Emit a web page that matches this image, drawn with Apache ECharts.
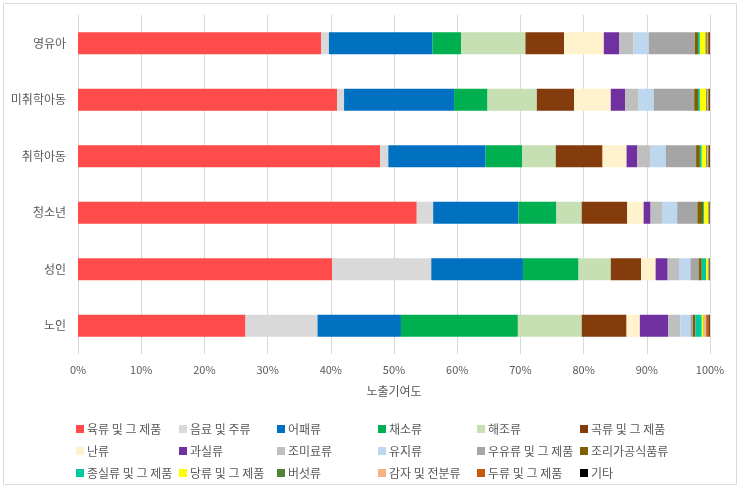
<!DOCTYPE html>
<html><head><meta charset="utf-8">
<script src="https://cdn.jsdelivr.net/npm/echarts@6/dist/echarts.min.js"></script>
<style>html,body{margin:0;padding:0;background:#fff}#c{width:740px;height:488px}</style>
</head><body><div id="c"></div>
<script>
const categories = ['영유아','미취학아동','취학아동','청소년','성인','노인'];
const seriesNames = ['육류 및 그 제품','음료 및 주류','어패류','채소류','해조류','곡류 및 그 제품','난류','과실류','조미료류','유지류','우유류 및 그 제품','조리가공식품류','종실류 및 그 제품','당류 및 그 제품','버섯류','감자 및 전분류','두류 및 그 제품','기타'];
const colors = ['#FF4B4B','#D9D9D9','#0070C0','#00B050','#C6E0B4','#843C0C','#FFF2CC','#7030A0','#BFBFBF','#BDD7EE','#A5A5A5','#7F6000','#00C8A0','#FFFF00','#548235','#F4B183','#C55A11','#000000'];
// values per group (%), in series order
const v영유아     = [38.5, 1.2,16.4, 4.5,10.2,6.1,6.3,2.4,2.3,2.4,7.3,0.5,0.3,0.9,0.2,0.1,0.3,0.1];
const v미취학아동 = [41.0, 1.1,17.4, 5.3, 7.8,5.9,5.8,2.3,2.1,2.4,6.4,0.6,0.3,1.0,0.2,0.1,0.2,0.1];
const v취학아동   = [47.8, 1.3,15.4, 5.8, 5.3,7.4,3.8,1.7,2.1,2.4,4.8,0.6,0.3,0.7,0.2,0.1,0.2,0.1];
const v청소년     = [53.6, 2.6,13.5, 6.0, 4.0,7.2,2.6,1.1,1.9,2.3,3.2,0.9,0.2,0.6,0.1,0.05,0.1,0.05];
const v성인       = [40.2,15.7,14.5, 8.8, 5.1,4.8,2.3,1.9,1.8,1.8,1.3,0.5,0.7,0.3,0.1,0.05,0.1,0.05];
const v노인       = [26.5,11.4,13.2,18.5,10.1,7.1,2.1,4.5,1.9,1.6,0.4,0.4,1.0,0.3,0.1,0.3,0.5,0.1];
const groups = [v영유아,v미취학아동,v취학아동,v청소년,v성인,v노인];
const xTicks = [0,10,20,30,40,50,60,70,80,90,100];

const font = '"Noto Sans CJK KR","Noto Sans",sans-serif';
const chart = echarts.init(document.getElementById('c'));
const series = seriesNames.map((name,i)=>({
  name, type:'bar', stack:'all', barWidth:22,
  itemStyle:{color:colors[i]},
  emphasis:{disabled:true},
  data: groups.map(g=>g[i])
}));
const colX = [76,179,277,378,477,580];
const rowY = [423,445,467];
const legends = seriesNames.map((name,i)=>({
  left: colX[i%6], top: rowY[Math.floor(i/6)],
  itemWidth:8,itemHeight:8,icon:'rect',itemGap:0,padding:0,
  textStyle:{color:'#595959',fontSize:12,fontFamily:font,padding:[0,0,0,-2]},
  data:[name]
}));
chart.setOption({
  animation:false,
  textStyle:{fontFamily:font},
  graphic:[{type:'rect',shape:{x:3.5,y:3.5,width:733,height:481},style:{fill:'none',stroke:'#D9D9D9',lineWidth:1},silent:true}],
  grid:{left:78,right:30,top:15,bottom:134},
  xAxis:{type:'value',min:0,max:100,interval:10,
    name:'노출기여도',nameLocation:'middle',nameGap:31,
    nameTextStyle:{color:'#595959',fontSize:12,fontFamily:font},
    axisLabel:{color:'#595959',fontSize:11,fontFamily:font,formatter:v=>v+'%',margin:10},
    axisLine:{show:false},axisTick:{show:false},
    splitLine:{lineStyle:{color:'#D9D9D9',width:1}}},
  yAxis:{type:'category',data:categories,inverse:true,
    axisLabel:{color:'#595959',fontSize:12,fontFamily:font,margin:12},
    axisLine:{lineStyle:{color:'#D9D9D9'}},axisTick:{show:false}},
  legend:legends,
  series
});
</script></body></html>
